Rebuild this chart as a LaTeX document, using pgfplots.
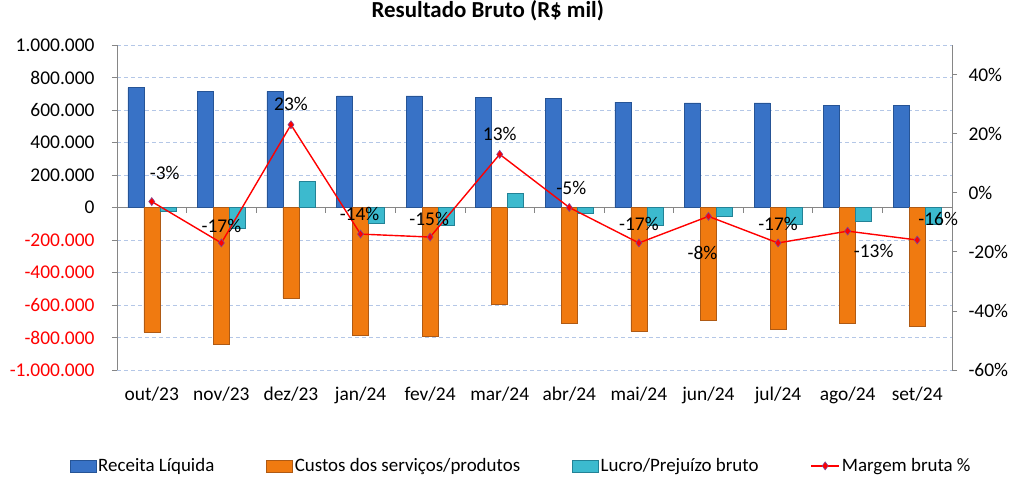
\documentclass[border=0pt]{standalone}
\usepackage{pgfplots}
\pgfplotsset{compat=1.18}
\usepackage{pgfplotstable}
\usepackage{fontspec}
\setmainfont{Carlito}

\definecolor{recF}{RGB}{56,114,198}
\definecolor{recD}{RGB}{38,84,150}
\definecolor{cusF}{RGB}{240,122,16}
\definecolor{cusD}{RGB}{175,90,20}
\definecolor{lucF}{RGB}{60,186,206}
\definecolor{lucD}{RGB}{35,130,150}
\definecolor{gridc}{RGB}{180,199,231}
\definecolor{axc}{RGB}{134,134,134}
\definecolor{mkc}{RGB}{130,70,150}

% values in R$ mil (thousands)
\pgfplotstableread{
x rec cus luc
0 737 -767 -25
1 716 -839 -125
2 714 -556 160
3 687 -788 -97
4 687 -794 -107
5 679 -593 88
6 673 -710 -33
7 648 -761 -111
8 644 -695 -55
9 644 -751 -105
10 630 -712 -84
11 630 -733 -100
}\resdata

% margem bruta (%) with label offsets
\pgfplotstableread{
x m dx dy
0 -3 13 29
1 -17 0 17
2 23 0 21
3 -14 -1 20
4 -15 -1 18
5 13 0 20
6 -5 2 20
7 -17 0 19
8 -8 -6 -37
9 -17 0 19
10 -13 26 -20
11 -16 21 21
}\mgdata

\pgfplotsset{
  base/.style={
    scale only axis, width=835bp, height=325bp,
    at={(0,0)}, anchor=south west,
    xmin=-0.5, xmax=11.5,
    tick align=outside, major tick length=5bp,
    ticklabel style={font=\fontsize{19.5}{22}\selectfont},
    axis line style={draw=axc, line width=0.8bp},
    every tick/.style={draw=axc, line width=0.8bp},
  },
  barleg/.style={legend image code/.code={\draw[##1] (0bp,-6bp) rectangle (26bp,6bp);}},
  lineleg/.style={legend image code/.code={\draw[mark repeat=2, mark phase=2, ##1] plot coordinates {(0bp,0bp) (14bp,0bp) (28bp,0bp)};}},
  mgline/.style={red, line width=1.4bp, mark=diamond*, mark size=4bp,
    mark options={fill=red, draw=mkc, line width=0.6bp}},
}

\begin{document}
\begin{tikzpicture}
\path[use as bounding box] (-117bp,-107bp) rectangle (893bp,370bp);

\begin{axis}[base,
  axis y line*=left, axis x line*=bottom,
  x axis line style={draw=none},
  xtick={0,...,11}, xtick style={draw=none},
  xticklabels={out/23,nov/23,dez/23,jan/24,fev/24,mar/24,abr/24,mai/24,jun/24,jul/24,ago/24,set/24},
  xticklabel style={yshift=-8bp},
  yticklabel style={xshift=-14bp},
  ymin=-1000, ymax=1000,
  ytick={-1000,-800,...,1000},
  yticklabels={\textcolor{red}{-1.000.000},\textcolor{red}{-800.000},\textcolor{red}{-600.000},\textcolor{red}{-400.000},\textcolor{red}{-200.000},0,200.000,400.000,600.000,800.000,1.000.000},
  ymajorgrids,
  grid style={draw=gridc, line width=0.8bp, dash pattern=on 4bp off 3bp},
  title={Resultado Bruto (R\$ mil)},
  title style={at={(0.444,1)}, anchor=center, yshift=28bp,
    font=\bfseries\fontsize{23}{26}\selectfont},
  legend style={draw=none, at={(0.484,-0.295)}, anchor=center,
    font=\fontsize{19}{22}\selectfont, inner sep=0pt,
    /tikz/every even column/.append style={column sep=50bp}},
  legend columns=4,
  legend cell align=left,
]
\draw[axc, line width=0.8bp] (axis cs:-0.5,0) -- (axis cs:11.5,0);
\pgfplotsinvokeforeach{-0.5,0.5,1.5,2.5,3.5,4.5,5.5,6.5,7.5,8.5,9.5,10.5,11.5}{
  \draw[axc, line width=0.8bp] (axis cs:#1,0) -- ([yshift=-5bp]axis cs:#1,0);
}
\addplot[ybar, bar width=16bp, bar shift=-16bp, draw=recD, line width=0.5bp,
  fill=recF, barleg]
  table[x=x, y=rec] {\resdata};
\addlegendentry{Receita Líquida}
\addplot[ybar, bar width=16bp, bar shift=0bp, draw=cusD, line width=0.5bp,
  fill=cusF, barleg]
  table[x=x, y=cus] {\resdata};
\addlegendentry{Custos dos serviços/produtos}
\addplot[ybar, bar width=16bp, bar shift=16bp, draw=lucD, line width=0.5bp,
  fill=lucF, barleg]
  table[x=x, y=luc] {\resdata};
\addlegendentry{Lucro/Prejuízo bruto}
\addlegendimage{mgline, lineleg}
\addlegendentry{Margem bruta \%}
\end{axis}

\begin{axis}[base,
  axis y line*=right, axis x line=none,
  ymin=-60, ymax=50,
  ytick={-60,-40,...,40},
  yticklabels={-60\%,-40\%,-20\%,0\%,20\%,40\%},
  yticklabel style={xshift=8bp},
]
\addplot[mgline,
  point meta=explicit,
  nodes near coords={\pgfmathprintnumber[assume math mode=true, fixed, precision=0]{\pgfplotspointmeta}\%},
  visualization depends on={\thisrow{dx} \as \dx},
  visualization depends on={\thisrow{dy} \as \dy},
  nodes near coords style={anchor=center, xshift=\dx*1bp, yshift=\dy*1bp,
    font=\fontsize{19.5}{22}\selectfont, text=black},
] table[x=x, y=m, meta=m] {\mgdata};
\end{axis}
\end{tikzpicture}
\end{document}
